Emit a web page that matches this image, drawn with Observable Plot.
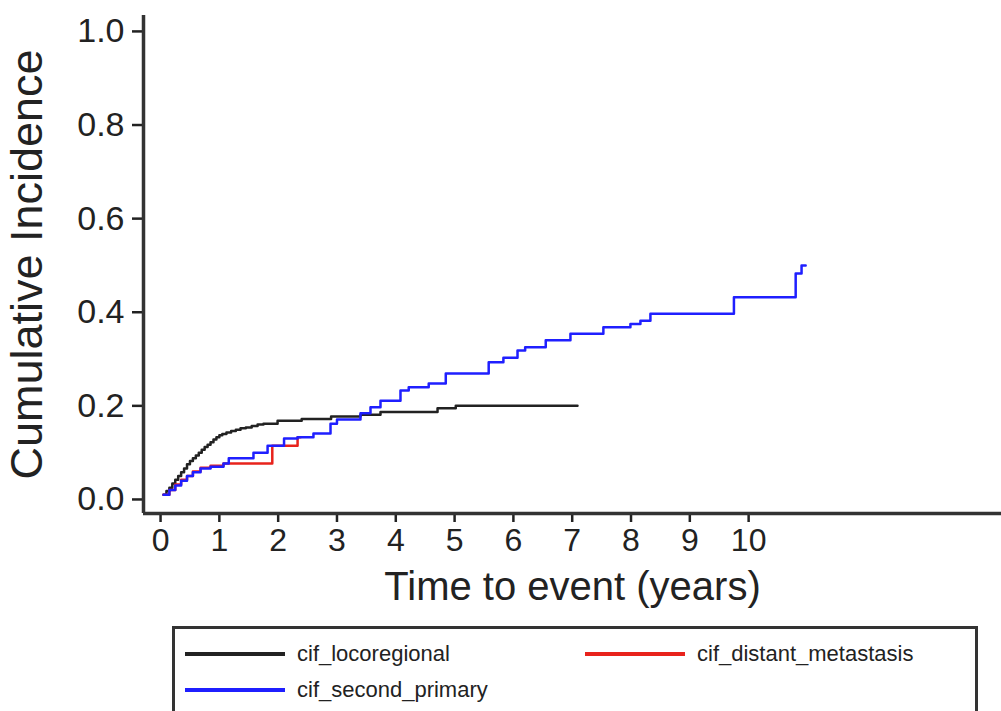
<!DOCTYPE html>
<html>
<head>
<meta charset="utf-8">
<script src="https://cdn.jsdelivr.net/npm/d3@7"></script>
<script src="https://cdn.jsdelivr.net/npm/@observablehq/plot@0.6"></script>
<style>
  html, body { margin: 0; padding: 0; background: #fff; overflow: hidden; }
  #wrap { position: relative; width: 1001px; height: 711px; }
  #legend { position: absolute; left: 172px; top: 626px; width: 806px; height: 120px;
            border: 3px solid #333; box-sizing: border-box; font-family: "Liberation Sans", Arial, sans-serif; }
  .item { position: absolute; display: flex; align-items: center; font-size: 22px; color: #222; }
  .sw { width: 100px; height: 4px; margin-right: 12px; }
</style>
</head>
<body>
<div id="wrap">
  <div id="chart"></div>
  <div id="legend"></div>
</div>
<script>
// Series names
const seriesNames = ["cif_locoregional", "cif_distant_metastasis", "cif_second_primary"];
const seriesColors = ["#222222", "#e8231c", "#1f1fff"];

// Locoregional (step points: time, cumulative incidence after the step)
const locoTime = [0.05, 0.1, 0.15, 0.2, 0.25, 0.3, 0.35, 0.4, 0.45, 0.5, 0.55, 0.6, 0.65, 0.7, 0.75, 0.8, 0.85, 0.9, 0.95, 1.0, 1.05, 1.12, 1.2, 1.28, 1.36, 1.45, 1.55, 1.65, 1.75, 1.99, 2.4, 2.9, 3.4, 3.74, 4.71, 5.02, 7.09];
const locoValue = [0.01, 0.018, 0.025, 0.034, 0.042, 0.05, 0.058, 0.066, 0.075, 0.082, 0.088, 0.094, 0.1, 0.106, 0.112, 0.117, 0.122, 0.128, 0.133, 0.137, 0.14, 0.143, 0.146, 0.149, 0.152, 0.154, 0.157, 0.16, 0.162, 0.168, 0.172, 0.177, 0.181, 0.187, 0.195, 0.2, 0.2];

// Distant metastasis
const distTime = [0.05, 0.15, 0.25, 0.35, 0.45, 0.55, 0.68, 0.85, 1.07, 1.9, 2.33, 2.38];
const distValue = [0.01, 0.02, 0.032, 0.042, 0.05, 0.06, 0.068, 0.072, 0.077, 0.115, 0.133, 0.133];

// Second primary
const secTime = [0.05, 0.15, 0.25, 0.35, 0.45, 0.55, 0.68, 0.85, 1.07, 1.16, 1.58, 1.82, 2.1, 2.33, 2.6, 2.89, 3.0, 3.4, 3.57, 3.74, 4.08, 4.22, 4.56, 4.85, 5.58, 5.83, 6.07, 6.2, 6.55, 6.97, 7.53, 7.99, 8.16, 8.33, 9.75, 10.8, 10.9, 10.97];
const secValue = [0.01, 0.02, 0.03, 0.04, 0.05, 0.058, 0.066, 0.07, 0.077, 0.088, 0.1, 0.115, 0.13, 0.133, 0.141, 0.162, 0.171, 0.184, 0.197, 0.211, 0.233, 0.24, 0.248, 0.269, 0.293, 0.303, 0.318, 0.325, 0.34, 0.354, 0.368, 0.375, 0.382, 0.397, 0.432, 0.483, 0.5, 0.5];

// Axis ticks
const xTicks = [0, 1, 2, 3, 4, 5, 6, 7, 8, 9, 10];
const yTicks = [0, 0.2, 0.4, 0.6, 0.8, 1.0];

const xDomain = [-0.29, 14.3];
const yDomain = [-0.03, 1.034];

const rows = [];
[[locoTime, locoValue, seriesNames[0]], [distTime, distValue, seriesNames[1]], [secTime, secValue, seriesNames[2]]]
  .forEach(([ts, vs, name]) => ts.forEach((t, i) => rows.push({t, v: vs[i], series: name})));

const font = "'Liberation Sans', Arial, sans-serif";

const chart = Plot.plot({
  width: 1001,
  height: 615,
  marginLeft: 143,
  marginRight: 0,
  marginTop: 15,
  marginBottom: 102,
  style: { fontFamily: font, color: "#222", background: "transparent" },
  x: { domain: xDomain },
  y: { domain: yDomain },
  color: { domain: seriesNames, range: seriesColors },
  marks: [
    Plot.axisX({ ticks: xTicks, tickSize: 9, tickPadding: 6, strokeWidth: 2.5, fontSize: 32,
                 label: "Time to event (years)", labelAnchor: "center", labelArrow: "none", labelOffset: 86 }),
    Plot.axisY({ ticks: yTicks, tickFormat: d3.format(".1f"), tickSize: 11, tickPadding: 8, strokeWidth: 2.5, fontSize: 34,
                 label: "Cumulative Incidence", labelAnchor: "center", labelArrow: "none", labelOffset: 133 }),
    Plot.ruleX([xDomain[0]], { stroke: "#333", strokeWidth: 3.5 }),
    Plot.ruleY([yDomain[0]], { stroke: "#333", strokeWidth: 3.5 }),
    Plot.line(rows, { x: "t", y: "v", z: "series", stroke: "series", curve: "step-after", strokeWidth: 2.5 })
  ]
});
// Axis label font sizes
chart.querySelectorAll("[aria-label='x-axis label'] text").forEach(t => t.setAttribute("font-size", 40));
chart.querySelectorAll("[aria-label='y-axis label'] text").forEach(t => t.setAttribute("font-size", 45));
document.getElementById("chart").appendChild(chart);

// Legend
const legend = document.getElementById("legend");
const legendPos = [[10, 12], [410, 12], [10, 48]];
seriesNames.forEach((name, i) => {
  const d = document.createElement("div");
  d.className = "item";
  d.style.left = legendPos[i][0] + "px";
  d.style.top = legendPos[i][1] + "px";
  d.innerHTML = `<div class="sw" style="background:${seriesColors[i]}"></div><span>${name}</span>`;
  legend.appendChild(d);
});
</script>
</body>
</html>
